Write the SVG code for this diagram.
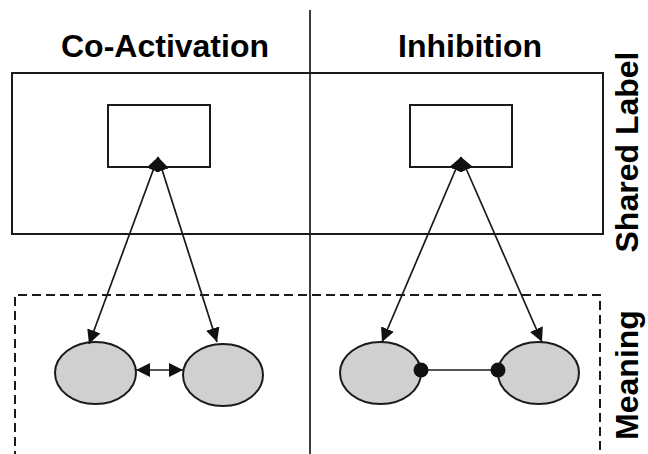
<svg xmlns="http://www.w3.org/2000/svg" width="648" height="454" viewBox="0 0 648 454">
<style>
.t{font-family:"Liberation Sans",Arial,sans-serif;font-weight:bold;font-size:32px;fill:#000}
.box{fill:none;stroke:#1a1a1a;stroke-width:2}
.ell{fill:#d0d0d0;stroke:#1a1a1a;stroke-width:2}
.ln{stroke:#1a1a1a;stroke-width:1.7;fill:none}
</style>
<defs>
<marker id="ah" viewBox="0 0 12 12" refX="12" refY="6" markerWidth="14" markerHeight="14" markerUnits="userSpaceOnUse" orient="auto-start-reverse">
<path d="M0,0 L12,6 L0,12 z" fill="#111"/>
</marker>
</defs>
<rect width="648" height="454" fill="#fff"/>
<g id="divider"><line x1="310" y1="10" x2="310" y2="454" class="ln"/></g>
<g id="shared-label-region"><rect x="12" y="73" width="591" height="161" class="box"/></g>
<g id="meaning-region"><path d="M15,460 L15,295 L600,295 L600,460" class="box" stroke-dasharray="9,5"/></g>
<g id="titles">
<text class="t" x="165" y="57" text-anchor="middle">Co-Activation</text>
<text class="t" x="470" y="57" text-anchor="middle">Inhibition</text>
<text class="t" transform="translate(638,152) rotate(-90)" text-anchor="middle">Shared Label</text>
<text class="t" transform="translate(638,375) rotate(-90)" text-anchor="middle">Meaning</text>
</g>
<g id="label-left"><rect x="108" y="105" width="102" height="62" class="box"/></g>
<g id="label-right"><rect x="410" y="105" width="102" height="62" class="box"/></g>
<g id="meaning-left-a"><ellipse cx="95.5" cy="373" rx="40.5" ry="31" class="ell"/></g>
<g id="meaning-left-b"><ellipse cx="223" cy="375" rx="40" ry="31" class="ell"/></g>
<g id="meaning-right-a"><ellipse cx="380.5" cy="373" rx="40.5" ry="31" class="ell"/></g>
<g id="meaning-right-b"><ellipse cx="538.5" cy="373" rx="40.5" ry="31" class="ell"/></g>
<g id="connectors">
<line x1="158" y1="157" x2="89" y2="344" class="ln" marker-start="url(#ah)" marker-end="url(#ah)"/>
<line x1="158" y1="157" x2="217" y2="342" class="ln" marker-start="url(#ah)" marker-end="url(#ah)"/>
<line x1="461" y1="157" x2="382" y2="342" class="ln" marker-start="url(#ah)" marker-end="url(#ah)"/>
<line x1="461" y1="157" x2="542" y2="342" class="ln" marker-start="url(#ah)" marker-end="url(#ah)"/>
<line x1="136" y1="370" x2="183" y2="370" class="ln" marker-start="url(#ah)" marker-end="url(#ah)"/>
<line x1="421" y1="370" x2="498" y2="370" class="ln"/>
<circle cx="421" cy="370" r="7.5" fill="#111"/>
<circle cx="498" cy="370" r="7.5" fill="#111"/>
</g>
</svg>
